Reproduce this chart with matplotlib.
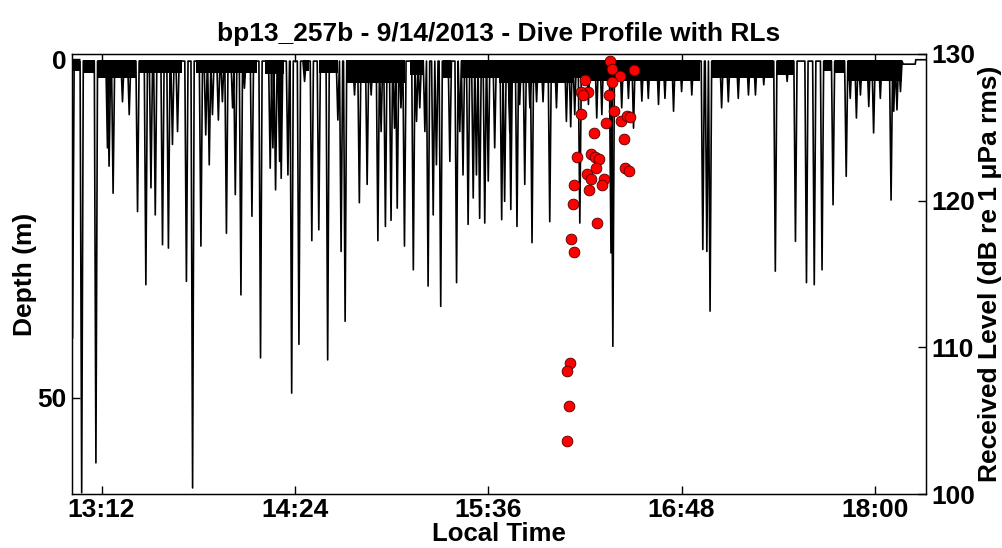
import numpy as np
import matplotlib
matplotlib.use("Agg")
import matplotlib.pyplot as plt
from matplotlib.ticker import FuncFormatter

plt.rcParams['font.family'] = ['Liberation Sans', 'DejaVu Sans']
plt.rcParams['font.weight'] = 'bold'

# dives: time of bottom (minutes after midnight) and max depth (m)
dive_t = [781.2, 784.6, 789.9, 794.2, 794.8, 796.3, 799.8, 802.3, 805.4, 808.5,
          810.4, 812.0, 814.7, 816.9, 818.4, 820.3, 823.6, 825.9, 829.0, 830.8,
          832.1, 833.3, 835.5, 837.0, 838.5, 840.8, 841.8, 843.9,
          845.2, 848.0, 851.2, 854.8, 855.8, 856.8, 858.3, 858.9, 861.4, 862.8,
          865.5, 867.6, 870.3, 872.9, 876.2, 880.0, 881.2, 882.7, 886.2, 888.0,
          890.9, 892.4, 894.9, 896.1, 897.7, 899.8, 901.1, 902.1, 903.5, 904.8,
          908.1, 909.3, 910.5, 912.4, 913.6, 915.5, 916.7, 918.3, 921.7, 924.2,
          925.4, 926.6, 928.5, 930.4, 931.6, 932.8, 934.7, 936.0, 938.4, 941.0,
          942.1, 944.0, 944.4, 946.7, 947.7, 949.6, 951.5, 952.3, 954.0, 956.4,
          958.9, 961.4, 965.1, 966.7, 968.2, 970.1,
          973.3, 976.4, 978.3, 981.7, 982.4, 985.7, 988.2, 990.1, 993.2, 995.6,
          999.4, 1001.8, 1005.0, 1008.0, 1011.8, 1015.9, 1017.4, 1018.6, 1022.9,
          1025.4, 1029.1, 1032.9,
          1035.5, 1038.6, 1042.9, 1047.3, 1050.4, 1054.5, 1057.4, 1060.3, 1064.4,
          1069.3, 1070.8, 1073.1, 1074.6, 1077.7, 1079.5, 1082.0, 1086.0, 1087.0,
          1088.2, 1089.5]
dive_d = [41.2, 64.0, 59.6, 13.1, 15.8, 19.8, 6.3, 8.2, 22.5, 33.3,
          19.0, 23.0, 27.4, 27.9, 12.6, 10.7, 32.8, 63.3, 27.6, 11.2,
          15.6, 8.2, 9.0, 6.3, 25.7, 7.2, 20.0, 34.8,
          4.3, 23.2, 44.1, 16.1, 13.1, 19.3, 15.1, 17.6, 17.1, 49.3,
          42.1, 3.3, 26.8, 25.2, 44.4, 9.0, 28.4, 38.7, 5.3, 21.2,
          18.5, 5.3, 26.8, 10.7, 24.7, 23.8, 10.2, 22.0, 7.2, 27.6,
          31.1, 9.2, 7.2, 10.7, 33.5, 23.0, 15.6, 36.5, 15.1, 33.0,
          10.7, 17.1, 24.4, 20.5, 17.1, 23.5, 24.2, 18.0, 13.1, 23.7,
          21.0, 10.7, 22.2, 24.7, 6.7, 18.5, 7.2, 27.1, 6.3, 6.3,
          24.0, 7.2, 9.2, 10.0, 8.2, 24.2,
          6.7, 8.7, 8.2, 28.6, 42.4, 7.2, 5.8, 10.2, 6.2, 5.8,
          6.7, 5.8, 7.7, 4.8, 5.3, 28.1, 28.4, 37.2, 7.2,
          6.3, 5.8, 5.3,
          5.3, 3.8, 31.3, 3.3, 26.9, 33.0, 33.3, 31.1, 21.5,
          17.3, 5.8, 8.7, 5.3, 7.0, 10.9, 5.8, 20.8, 7.7,
          7.5, 4.8]

# tag floating at the end of the record
tail_t = [1090.5, 1095.0, 1095.2, 1099.0]
tail_d = [0.75, 0.75, 0.1, 0.1]

# dense surfacing bouts (start, end, lower edge of the black band, m)
band_start = [781.5, 785.0, 790.5, 806.0, 827.0, 843.0, 852.7, 866.9, 873.0, 883.0,
              907.0, 919.0, 926.0, 940.0, 968.0, 971.0, 1019.5, 1035.0, 1043.5,
              1061.0, 1065.0, 1070.0]
band_end = [784.0, 789.5, 805.0, 822.0, 844.0, 850.0, 860.0, 869.4, 880.0, 905.0,
            912.0, 922.0, 940.0, 968.0, 972.0, 1015.0, 1035.0, 1042.0, 1050.0,
            1064.0, 1069.0, 1090.0]
band_depth = [1.8, 2.0, 2.8, 2.0, 2.0, 2.0, 2.2, 1.8, 2.0, 3.5,
              2.4, 2.8, 2.8, 3.5, 2.8, 3.2, 2.8, 2.8, 2.4,
              1.8, 2.0, 3.2]

# received levels (dB re 1 uPa rms)
rl_t = [981.5, 981.9, 990.3, 985.0, 972.2, 982.2, 973.2, 970.4, 971.3, 981.0,
        970.4, 982.7, 979.8, 985.6, 987.5, 988.8, 975.3, 986.5, 969.0, 974.4,
        975.7, 977.3, 987.1, 988.3, 976.0, 972.8, 974.1, 979.0, 978.4, 967.8,
        973.4, 967.4, 976.4, 966.7, 967.9, 966.6, 965.5, 966.0, 965.3]
rl_v = [129.5, 129.0, 128.9, 128.5, 128.2, 128.1, 127.4, 127.4, 127.2, 127.2,
        125.9, 126.1, 125.3, 125.4, 125.8, 125.7, 124.6, 124.2, 123.0, 123.2,
        123.0, 122.85, 122.2, 122.0, 122.2, 121.8, 121.5, 121.5, 121.1, 121.1,
        120.75, 119.8, 118.5, 117.4, 116.5, 108.9, 108.4, 106.0, 103.6]

xticks = [792, 864, 936, 1008, 1080]

# build the trace: surface -> bottom -> surface for each dive
order = np.argsort(dive_t)
tt, dd = [], []
hw = 0.6
for i in order:
    tt += [dive_t[i] - hw, dive_t[i], dive_t[i] + hw]
    dd += [0.3, dive_d[i], 0.3]
tt += tail_t
dd += tail_d

fs = 19
fig = plt.figure(figsize=(10.03, 5.48), dpi=100)
ax = fig.add_axes([0.0718, 0.0985, 0.8514, 0.803])
for a, b, d in zip(band_start, band_end, band_depth):
    ax.fill_between([a, b], 0.2, d, color='k', lw=0)
ax.plot(tt, dd, color='k', lw=1.2)
ax.set_xlim(781, 1099)
ax.set_ylim(64.2, -0.75)
ax.set_yticks([0, 50])
ax.set_xticks(xticks)
ax.xaxis.set_major_formatter(FuncFormatter(lambda v, p: '%d:%02d' % (v // 60, v % 60)))
ax.tick_params(direction='in', length=6, width=1, labelsize=fs, top=True,
               right=True, labelright=False, pad=4)
ax.tick_params(axis='x', pad=3)
ax.set_xlabel('Local Time', fontsize=18.5, fontweight='bold', labelpad=0)
ax.set_ylabel('Depth (m)', fontsize=fs, fontweight='bold', labelpad=0)
ax.set_title('bp13_257b - 9/14/2013 - Dive Profile with RLs', fontsize=fs,
             fontweight='bold', pad=9)
for s in ax.spines.values():
    s.set_linewidth(1.0)

ax2 = ax.twinx()
ax2.scatter(rl_t, rl_v, s=60, c='#ff0000', edgecolors='#500000', linewidths=0.6, zorder=3)
ax2.set_ylim(100, 130)
ax2.set_yticks([100, 110, 120, 130])
ax2.tick_params(direction='in', length=6, width=1, labelsize=fs, pad=4)
ax2.set_ylabel('Received Level (dB re 1 \u03bcPa rms)', fontsize=fs, fontweight='bold', labelpad=2)

fig.savefig('out.png', dpi=100)
